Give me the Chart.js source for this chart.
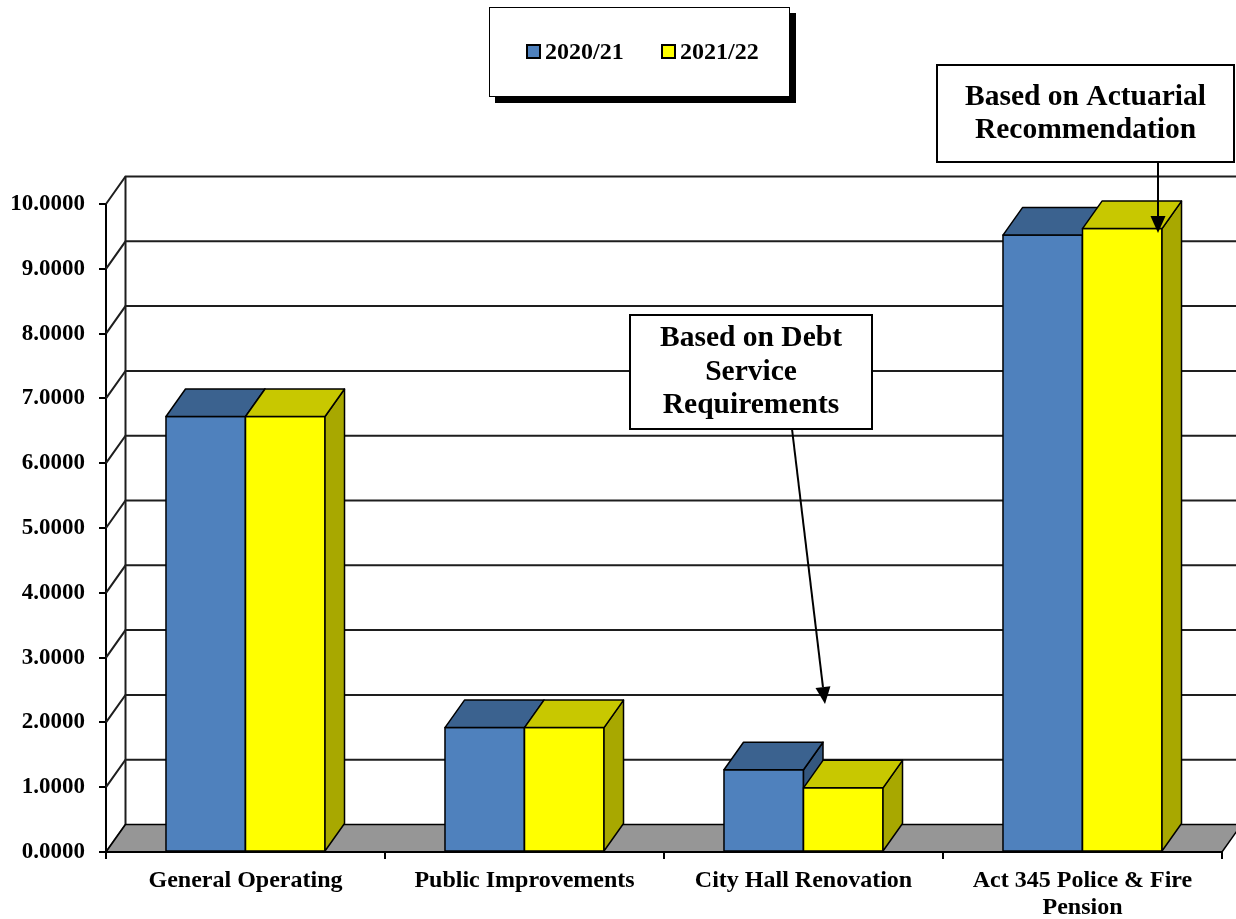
<!DOCTYPE html>
<html>
<head>
<meta charset="utf-8">
<title>Millage Rates</title>
<script src="https://cdn.jsdelivr.net/npm/chart.js@4/dist/chart.umd.min.js"></script>
<style>
    body { margin: 0; background: #fff; }
    #wrap { width: 1236px; height: 919px; position: relative; }
</style>
</head>
<body>
<div id="wrap"><canvas id="rateChart"></canvas></div>
<script>

// data
const categories = ['General Operating', 'Public Improvements', 'City Hall Renovation', ['Act 345 Police & Fire', 'Pension']];
const seriesNames = ['2020/21', '2021/22'];
const rates2021 = [6.72, 1.92, 1.27, 9.52];
const rates2122 = [6.72, 1.92, 0.99, 9.62];
const yTicks = [0, 1, 2, 3, 4, 5, 6, 7, 8, 9, 10];

const SERIF = "'Liberation Serif', 'Times New Roman', serif";
const DX = 19.5, DY = -27.5;   // depth of the 3d box

const faceColors = ['#4F81BD', '#FFFF00'];
const topColors = ['#3B628F', '#C8C800'];
const sideColors = ['#34577F', '#A8A800'];

Chart.defaults.font.family = SERIF;
Chart.defaults.color = '#000';

function poly(ctx, pts, fill) {
    ctx.beginPath();
    ctx.moveTo(pts[0][0], pts[0][1]);
    for (let i = 1; i < pts.length; i++) ctx.lineTo(pts[i][0], pts[i][1]);
    ctx.closePath();
    if (fill) {
        ctx.fillStyle = fill;
        ctx.fill();
    }
    ctx.stroke();
}

// back wall, left wall, floor and grid lines
const wallPlugin = {
    id: 'wall',
    beforeDatasetsDraw(chart) {
        const ctx = chart.ctx;
        const area = chart.chartArea;
        const y = chart.scales.y;
        const base = y.getPixelForValue(0);
        const farRight = area.right + DX;
        ctx.save();
        ctx.lineJoin = 'miter';

        // grid lines on the back wall + diagonals on the left wall
        ctx.strokeStyle = '#1e1e1e';
        ctx.lineWidth = 2;
        yTicks.forEach(function(v) {
            const py = y.getPixelForValue(v);
            ctx.beginPath();
            ctx.moveTo(area.left, py);
            ctx.lineTo(area.left + DX, py + DY);
            if (v > 0) ctx.lineTo(farRight + 20, py + DY);
            ctx.stroke();
        });
        // back vertical edge
        ctx.beginPath();
        ctx.moveTo(area.left + DX, y.getPixelForValue(10) + DY);
        ctx.lineTo(area.left + DX, base + DY);
        ctx.stroke();

        // floor
        ctx.strokeStyle = '#000';
        ctx.lineWidth = 1.5;
        poly(ctx, [[area.left, base], [area.right, base], [farRight, base + DY], [area.left + DX, base + DY]], '#969696');
        ctx.lineWidth = 2;
        ctx.beginPath();
        ctx.moveTo(area.left, base);
        ctx.lineTo(area.right, base);
        ctx.stroke();
        ctx.restore();
    }
};

// front, side and top faces, category by category so the boxes overlap right
const boxPlugin = {
    id: 'box3d',
    afterDatasetsDraw(chart) {
        const ctx = chart.ctx;
        const metas = chart.data.datasets.map(function(ds, i) { return chart.getDatasetMeta(i); });
        ctx.save();
        ctx.strokeStyle = '#000';
        ctx.lineWidth = 1.5;
        ctx.lineJoin = 'round';
        for (let c = 0; c < categories.length; c++) {
            metas.forEach(function(meta, idx) {
                const p = meta.data[c].getProps(['x', 'y', 'base', 'width'], true);
                const l = p.x - p.width / 2, r = p.x + p.width / 2;
                ctx.fillStyle = faceColors[idx];
                ctx.fillRect(l, p.y, p.width, p.base - p.y);
                ctx.strokeRect(l, p.y, p.width, p.base - p.y);
                poly(ctx, [[r, p.y], [r + DX, p.y + DY], [r + DX, p.base + DY], [r, p.base]], sideColors[idx]);
                poly(ctx, [[l, p.y], [r, p.y], [r + DX, p.y + DY], [l + DX, p.y + DY]], topColors[idx]);
            });
        }
        ctx.restore();
    }
};

function textBox(ctx, x1, y1, x2, y2, lines, lineGap) {
    ctx.fillStyle = '#fff';
    ctx.fillRect(x1, y1, x2 - x1, y2 - y1);
    ctx.strokeStyle = '#000';
    ctx.lineWidth = 2;
    ctx.strokeRect(x1, y1, x2 - x1, y2 - y1);
    ctx.fillStyle = '#000';
    ctx.font = 'bold 29.5px ' + SERIF;
    ctx.textAlign = 'center';
    ctx.textBaseline = 'middle';
    const cx = (x1 + x2) / 2;
    const cy = (y1 + y2) / 2 - (lines.length - 1) * lineGap / 2;
    lines.forEach(function(t, i) {
        ctx.fillText(t, cx, cy + i * lineGap);
    });
}

function arrow(ctx, x1, y1, x2, y2) {
    const a = Math.atan2(y2 - y1, x2 - x1);
    const len = 17, half = 7.5;
    const bx = x2 - len * Math.cos(a), by = y2 - len * Math.sin(a);
    ctx.strokeStyle = '#000';
    ctx.lineWidth = 2;
    ctx.beginPath();
    ctx.moveTo(x1, y1);
    ctx.lineTo(bx, by);
    ctx.stroke();
    ctx.fillStyle = '#000';
    ctx.beginPath();
    ctx.moveTo(x2, y2);
    ctx.lineTo(bx + half * Math.sin(a), by - half * Math.cos(a));
    ctx.lineTo(bx - half * Math.sin(a), by + half * Math.cos(a));
    ctx.closePath();
    ctx.fill();
}

// legend box with shadow + the two callouts
const extrasPlugin = {
    id: 'extras',
    afterDraw(chart) {
        const ctx = chart.ctx;
        ctx.save();

        // legend
        const lx = 489, ly = 7, lw = 301, lh = 90;
        ctx.fillStyle = '#000';
        ctx.fillRect(lx + 6, ly + 6, lw, lh);
        ctx.fillStyle = '#fff';
        ctx.fillRect(lx, ly, lw, lh);
        ctx.strokeStyle = '#000';
        ctx.lineWidth = 1;
        ctx.strokeRect(lx + 0.5, ly + 0.5, lw - 1, lh - 1);
        ctx.font = 'bold 24px ' + SERIF;
        ctx.textAlign = 'left';
        ctx.textBaseline = 'middle';
        const itemX = [527, 662];
        chart.data.datasets.forEach(function(ds, i) {
            ctx.fillStyle = ds.backgroundColor;
            ctx.fillRect(itemX[i], 45, 13, 13);
            ctx.lineWidth = 2;
            ctx.strokeRect(itemX[i], 45, 13, 13);
            ctx.fillStyle = '#000';
            ctx.fillText(ds.label, itemX[i] + 18, 53);
        });

        // callouts
        textBox(ctx, 937, 65, 1234, 162, ['Based on Actuarial', 'Recommendation'], 33);
        arrow(ctx, 1158, 162, 1158, 233);
        textBox(ctx, 630, 315, 872, 429, ['Based on Debt', 'Service', 'Requirements'], 33.5);
        arrow(ctx, 792, 429, 825, 704);

        ctx.restore();
    }
};

const ctx = document.getElementById('rateChart');
new Chart(ctx, {
    type: 'bar',
    data: {
        labels: categories,
        datasets: [{
            label: seriesNames[0],
            data: rates2021,
            backgroundColor: faceColors[0],
            borderWidth: 0
        }, {
            label: seriesNames[1],
            data: rates2122,
            backgroundColor: faceColors[1],
            borderWidth: 0
        }]
    },
    options: {
        responsive: true,
        maintainAspectRatio: false,
        animation: false,
        categoryPercentage: 0.57,
        barPercentage: 1,
        layout: {
            padding: { top: 204, right: 14, left: 0, bottom: 0 }
        },
        plugins: {
            legend: { display: false },
            tooltip: { enabled: false }
        },
        scales: {
            x: {
                grid: {
                    drawOnChartArea: false,
                    color: '#000',
                    lineWidth: 2,
                    tickLength: 7
                },
                border: { display: false },
                ticks: {
                    padding: 9,
                    maxRotation: 0,
                    autoSkip: false,
                    font: { size: 24, weight: 'bold', lineHeight: 1.1 }
                },
                afterFit: function(s) { s.height = 67; }
            },
            y: {
                min: 0,
                max: 10,
                grid: {
                    drawOnChartArea: false,
                    color: '#000',
                    lineWidth: 2,
                    tickLength: 7
                },
                border: { display: true, color: '#000', width: 2 },
                ticks: {
                    stepSize: 1,
                    padding: 14,
                    font: { size: 23, weight: 'bold' },
                    callback: function(value) {
                        return value.toFixed(4);
                    }
                },
                afterFit: function(s) { s.width = 106; }
            }
        }
    },
    plugins: [wallPlugin, boxPlugin, extrasPlugin]
});
</script>
</body>
</html>
